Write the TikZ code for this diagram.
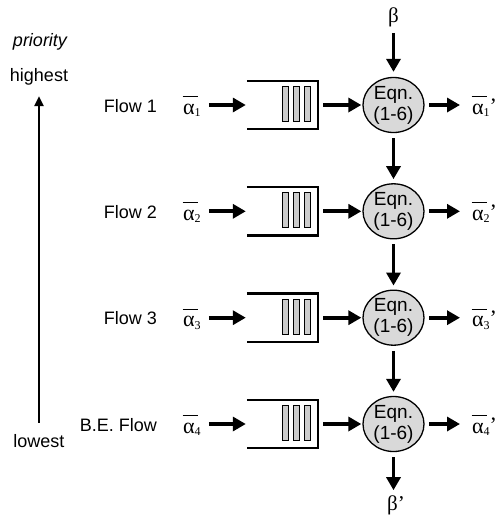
\documentclass[tikz,border=0pt]{standalone}
\usepackage{fontspec}
\setmainfont{Liberation Sans}
\newfontfamily\serif{Liberation Serif}
\usetikzlibrary{arrows.meta,shapes.geometric}
\newcommand\abar[2]{{\serif\fontsize{22}{24}\selectfont\makebox[0pt][l]{\hspace{-0.5pt}\rule[17pt]{15pt}{1.2pt}}α\raisebox{-2.5pt}{\fontsize{12}{12}\selectfont #1}\raisebox{1pt}{#2}}}
\begin{document}
\begin{tikzpicture}[x=1pt,y=-1pt,
  txt/.style={font=\fontsize{18}{20}\selectfont, inner sep=0pt},
  arr/.style={line width=3.8pt, -{Triangle[length=13pt,width=14pt]}},
  qbox/.style={minimum width=71pt,minimum height=48pt,inner sep=0pt},
  qbar/.style={draw=black,line width=0.8pt,fill=gray!40,minimum width=6pt,minimum height=35pt,inner sep=0pt},
  eqn/.style={ellipse,draw=black,line width=1.3pt,fill=gray!30,minimum width=61pt,minimum height=55pt,inner sep=0pt,align=center,font=\fontsize{19}{21}\selectfont}]
\useasboundingbox (0,0) rectangle (497,520);
\foreach \i/\y/\lab in {1/105/Flow 1, 2/211.3/Flow 2, 3/317.7/Flow 3, 4/424/B.E. Flow}{
  \node[txt,anchor=base east] (f\i) at (157,\y+7) {\lab};
  \node[txt,anchor=base west] (a\i) at (183,\y+9) {\abar{\i}{}};
  \node[qbox] (q\i) at (282.5,\y) {};
  \draw[line width=2.5pt] (q\i.north west) -- (q\i.north east) -- (q\i.south east) -- (q\i.south west);
  \node[qbar] (b\i a) at (285,\y-1) {};
  \node[qbar] (b\i b) at (296,\y-1) {};
  \node[qbar] (b\i c) at (307,\y-1) {};
  \node[eqn] (e\i) at (393.5,\y) {Eqn.\\(1-6)};
  \node[txt,anchor=base west] (o\i) at (472,\y+9) {\abar{\i}{’}};
  \draw[arr,shorten <=8pt,shorten >=1pt] (a\i.east |- q\i) -- (q\i.west);
  \draw[arr,shorten <=5pt,shorten >=1pt] (q\i.east) -- (e\i.west);
  \draw[arr,shorten <=4.5pt,shorten >=12pt] (e\i.east) -- (o\i.west |- e\i);
}
\node[txt,font=\fontsize{21}{22}\selectfont] (beta) at (393.5,17) {\serif β};
\node[txt,font=\fontsize{21}{22}\selectfont] (betap) at (396,505) {\serif β’};
\draw[arr,shorten <=6pt,shorten >=5pt] (beta.south -| e1) -- (e1);
\draw[arr,shorten <=5pt,shorten >=4pt] (e1) -- (e2);
\draw[arr,shorten <=5pt,shorten >=4pt] (e2) -- (e3);
\draw[arr,shorten <=5pt,shorten >=4pt] (e3) -- (e4);
\draw[arr,shorten <=5pt,shorten >=5pt] (e4) -- (betap.north -| e4);
\node[txt,font=\fontsize{18}{20}\selectfont\itshape] (prio) at (40,42) {priority};
\node[txt] (hi) at (39,77) {highest};
\node[txt] (lo) at (39,441) {lowest};
\draw[line width=2.8pt,-{Triangle[length=10pt,width=9pt]},shorten <=11.5pt,shorten >=10.5pt] (lo) -- (hi);
\end{tikzpicture}
\end{document}
